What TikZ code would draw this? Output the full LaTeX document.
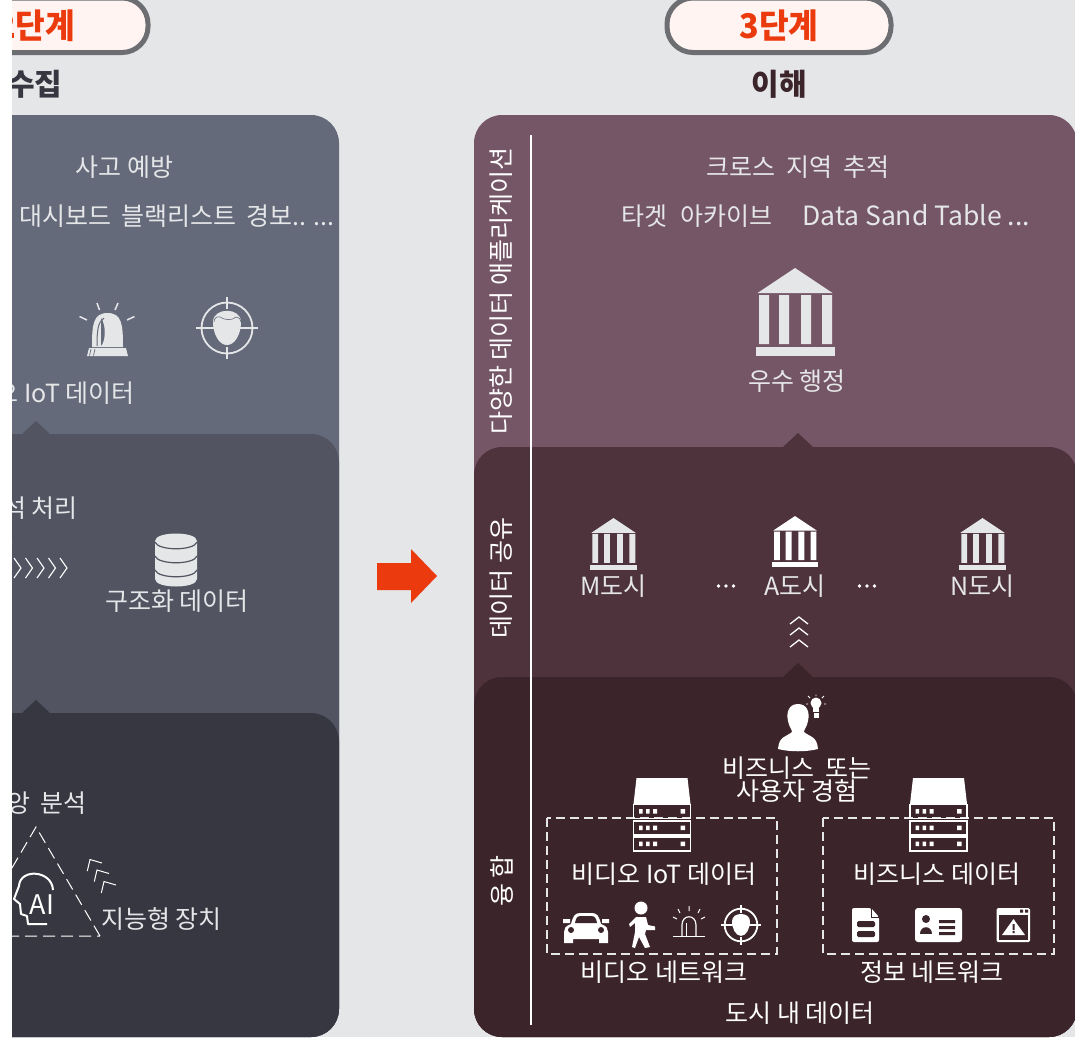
\documentclass[tikz,border=0pt]{standalone}
\usepackage{fontspec}
\setmainfont{Noto Sans CJK KR}
\newfontfamily\headfont{Noto Sans CJK KR}
\definecolor{bgc}{HTML}{E5E6E8}
\definecolor{lA}{HTML}{646A7A}
\definecolor{lB}{HTML}{525462}
\definecolor{lC}{HTML}{373741}
\definecolor{rA}{HTML}{755666}
\definecolor{rB}{HTML}{4E323C}
\definecolor{rC}{HTML}{3B242A}
\definecolor{redc}{HTML}{EB3B0E}
\definecolor{pillc}{HTML}{FFF4F1}
\definecolor{pilledge}{HTML}{6D6E71}
\newcommand{\fsz}[1]{\fontsize{#1}{#1}\selectfont}
\tikzset{
  lbl/.style={text=bgc,inner sep=0pt,font=\fsz{25},yshift=-1.5pt},
  wlbl/.style={text=white,inner sep=0pt,font=\fsz{25},yshift=-1.5pt},
  vlbl/.style={text=white,inner sep=0pt,font=\fsz{25},rotate=90},
  steplabel/.style={text=redc,inner sep=0pt,font=\headfont\fsz{34}\bfseries,xscale=.95},
  headlabel/.style={inner sep=0pt,font=\headfont\fsz{30}\bfseries},
  pill/.style={draw=pilledge,fill=pillc,line width=5pt,rounded corners=26pt},
  dbox/.style={draw=bgc,line width=1.3pt,dash pattern=on 9pt off 5pt},
  chev/.style={draw=white,line width=1.3pt},
  temple/.pic={
    \path[pic actions] (0,0)--(37.5,25)--(-37.5,25)--cycle;
    \path[pic actions] (-36,27) rectangle (-26,76) (-16,27) rectangle (-6,76)
      (6,27) rectangle (16,76) (27,27) rectangle (37,76);
    \path[pic actions] (-39.5,79) rectangle (39.5,88);
  },
  upchev/.pic={\draw[chev] (-9,7)--(0,0)--(9,7);},
  rightchev/.pic={\draw[chev,line width=1.1pt] (-7,-10)--(0,0)--(-7,10);},
  targetface/.pic={
    \draw[pic actions,fill=none,line width=1.8pt] (0,0) circle (25.5);
    \draw[pic actions,fill=none,line width=1.8pt] (-31,0)--(-13,0) (13,0)--(31,0) (0,-31)--(0,-19) (0,19)--(0,31);
    \path[pic actions,draw=none] (-14,-6) .. controls (-14,-21) and (14,-21) .. (14,-6)
      .. controls (14,6) and (8,17) .. (0,17) .. controls (-8,17) and (-14,6) .. (-14,-6)--cycle;
  },
  serverrow/.pic={
    \draw[draw=white,line width=1.3pt] (-28.5,0) rectangle (28.5,14);
    \fill[white] (-23,4.5) rectangle (-19.5,9) (-16,4.5) rectangle (-12.5,9) (-9,4.5) rectangle (-5,9)
      (18.5,4.5) rectangle (23,9);
  },
  server/.pic={
    \fill[white] (-25.5,0)--(25.5,0)--(28.5,26)--(-28.5,26)--cycle;
    \pic at (0,26.5) {serverrow};
    \pic at (0,43) {serverrow};
    \pic at (0,59) {serverrow};
  },
}
\begin{document}
\begin{tikzpicture}[x=1pt,y=-1pt]
\useasboundingbox (0,0) rectangle (1075,1037);
\fill[white] (0,0) rectangle (1075,1037);
\begin{scope}
\clip (12,0) rectangle (1075,1037);
\fill[bgc] (0,0) rectangle (1075,1037);

% ---- left column panels
\fill[lA,rounded corners=28pt] (-100,115) rectangle (339,1037);
\fill[lB] (22,434)--(36,421)--(50,434)--cycle;
\fill[lB,rounded corners=28pt] (-100,434) rectangle (339,1037);
\fill[lC] (22,713)--(36,700)--(50,713)--cycle;
\fill[lC,rounded corners=28pt] (-100,713) rectangle (339,1037);

% ---- right column panels
\fill[rA,rounded corners=28pt] (474,115) rectangle (1077,1037);
\fill[rB] (783,447)--(798,433)--(813,447)--cycle;
\fill[rB,rounded corners=28pt] (474,447) rectangle (1077,1037);
\fill[rC] (783,677)--(798,663)--(813,677)--cycle;
\fill[rC,rounded corners=28pt] (474,677) rectangle (1077,1037);

% ---- step pills
\draw[pill] (-77,-2) rectangle (148,52.5);
\draw[pill] (667,-2) rectangle (891,52.5);
\node[steplabel,anchor=east] (stepTwo) at (75.5,26) {2단계};
\node[steplabel] (stepThree) at (779,26) {3단계};
\node[headlabel,text=lC,anchor=east] (headCollect) at (62.5,84) {수집};
\node[headlabel,text=rC] (headUnderstand) at (779,84) {이해};

% ---- left texts
\node[lbl] (accident) at (124.5,166) {사고 예방};
\node[lbl,anchor=west] (dash) at (19,215) {대시보드};
\node[lbl,anchor=east] (black) at (335,215) {블랙리스트\hspace{4pt} 경보.. ...};
\node[lbl,anchor=east] (iot) at (135,392) {오 IoT 데이터};
\node[lbl,anchor=east] (proc) at (78,507) {석 처리};
\node[lbl] (structured) at (177,600) {구조화 데이터};
\node[lbl,anchor=east] (central) at (87,802) {앙\hspace{5pt} 분석};
\node[lbl,anchor=west] (smart) at (101,918) {지능형 장치};

% siren (left)
\begin{scope}[bgc]
\fill (92,347) .. controls (92,325) and (93,313) .. (107.5,313) .. controls (122,313) and (123,325) .. (123,347)--cycle;
\fill (89,348)--(126,348)--(128,356)--(87,356)--cycle;
\draw[line width=1.5pt] (97,303)--(99.5,310) (118,303)--(115,310) (79.5,316.5)--(87,320) (134.5,316.5)--(127,320);
\end{scope}
\draw[lA,line width=1pt] (97,346) .. controls (97,330) and (98,322) .. (104,318);
\fill[lA] (101,318) .. controls (106,325) and (106,340) .. (101,346)--cycle;
\draw[lA,line width=.7pt] (91,349)--(89.5,355.5) (95,349)--(93.5,355.5);

\pic[draw=bgc,fill=bgc] at (227,328) {targetface};
\draw[lA,line width=.6pt] (214,322) .. controls (214,318) and (217,316) .. (220,317) .. controls (224,320) and (232,321) .. (236,317) .. controls (239,317) and (241,319) .. (241,322);

% database
\fill[bgc] (155,541) .. controls (155,531) and (197,531) .. (197,541) -- (197,579)
  .. controls (197,589) and (155,589) .. (155,579)--cycle;
\draw[lB,line width=1.2pt] (155,542) .. controls (158,551) and (194,551) .. (197,542)
  (155,556) .. controls (158,565) and (194,565) .. (197,556)
  (155,570) .. controls (158,579) and (194,579) .. (197,570);

% right chevrons (left column)
\foreach \cx in {67,55.5,44,32.5,21} {\pic at (\cx,568) {rightchev};}
\draw[pilledge,line width=1pt] (0,542.5)--(13,542.5);

% AI triangle
\draw[white,line width=1pt,dash pattern=on 12pt off 6pt] (100,936)--(36,827)--(-28,936)--cycle;
\draw[white,line width=2pt,line join=round] (53,890) .. controls (52,870) and (20,868) .. (19,886)
  -- (14,899)--(20,904)--(21,914)--(27,916)--(28,924)--(47,924);
\node[inner sep=0pt,text=white,font=\headfont\fsz{27}] (aiLabel) at (42,905) {AI};
\foreach \cx/\cy in {90/859.5, 97/870, 104/881.5} {
  \draw[white,line width=1pt] (\cx+12,\cy+3.5)--(\cx,\cy)--(\cx-2.7,\cy+11.5);
}

% ---- centre arrow
\fill[redc] (377,563)--(411,563)--(411,549)--(437,576)--(411,603)--(411,590)--(377,590)--cycle;

% ---- right side rule and vertical labels
\draw[white,line width=1.3pt] (531,135)--(531,1025);
\node[vlbl] (vApps) at (501,291) {다양한 데이터 애플리케이션};
\node[vlbl] (vShare) at (501,578) {데이터 공유};
\node[vlbl] (vFusion) at (502,881) {융 합};

% ---- right top
\node[lbl] (cross) at (798,166) {크로스\hspace{5pt} 지역\hspace{5pt} 추적};
\node[lbl] (target) at (697,215) {타겟\hspace{7pt} 아카이브};
\node[lbl,font=\fsz{26.5}] (sand) at (916,213.5) {Data Sand Table ...};
\pic[fill=bgc] at (795,268) {temple};
\node[lbl] (best) at (797,380) {우수 행정};

% ---- sharing row
\pic[fill=bgc,scale=.59] at (613.5,518) {temple};
\pic[fill=white,scale=.58] at (795,516) {temple};
\pic[fill=bgc,scale=.59] at (982.5,518) {temple};
\node[lbl] (cityM) at (613.5,585) {M도시};
\node[lbl] (cityA) at (795,585) {A도시};
\node[lbl] (cityN) at (982.5,585) {N도시};
\foreach \dx in {-7.5,0,7.5} {
  \fill[white] (726+\dx,586) circle (1.8);
  \fill[white] (867+\dx,586) circle (1.8);
}
\pic at (799,617) {upchev};
\pic at (799,628) {upchev};
\pic at (799,640) {upchev};

% ---- person with bulb
\fill[white] (798,704) .. controls (789,704) and (786,712) .. (788,721)
  .. controls (789,727) and (792,729) .. (792,732)
  .. controls (786,737) and (779,736) .. (778,749)
  .. controls (790,752) and (806,752) .. (818,749)
  .. controls (817,736) and (810,737) .. (804,732)
  .. controls (804,729) and (807,727) .. (808,721)
  .. controls (810,712) and (807,704) .. (798,704)--cycle;
\fill[white] (816,703) circle (5.5);
\fill[white] (813,706) rectangle (819,712);
\fill[white] (813.5,713) rectangle (818.5,717.5);
\draw[white,line width=.8pt] (816,694.5)--(816,696) (808,696)--(810,698) (824,696)--(822,698)
  (806,704)--(808,704) (826,704)--(824,704);

\node[wlbl] (bizor) at (797,767) {비즈니스\hspace{6pt} 또는};
\node[wlbl] (userexp) at (797,790) {사용자 경험};

% ---- dashed network frames
\draw[dbox] (547,818) rectangle (777,954);
\draw[dbox] (823,818) rectangle (1054,954);
\pic at (662,778) {server};
\pic at (938.5,778) {server};
\node[wlbl] (vidiot) at (664,873) {비디오 IoT 데이터};
\node[wlbl] (bizdata) at (937,873) {비즈니스 데이터};
\node[wlbl] (vidnet) at (664,971) {비디오 네트워크};
\node[wlbl] (infonet) at (932,971) {정보 네트워크};
\node[wlbl] (citydata) at (800,1012) {도시 내 데이터};

% car
\fill[white] (571,924) .. controls (573,916) and (575,913) .. (580,913) -- (592,913)
  .. controls (597,913) and (599,916) .. (601,924)
  .. controls (607,926) and (608,929) .. (608,932) -- (608,943)--(599,943)--(599,939)--(573,939)--(573,943)--(564,943)--(564,932)
  .. controls (564,929) and (565,926) .. (571,924)--cycle;
\fill[white] (563,919) rectangle (570,923) (602,919) rectangle (609,923);
\fill[rC] (575,923) .. controls (576,918) and (577,916) .. (581,916) -- (591,916)
  .. controls (595,916) and (596,918) .. (597,923)--cycle;
\fill[rC] (571,930) circle (3) (601,930) circle (3);

% walker
\fill[white] (641,908) circle (6.5);
\fill[white] (636,917)--(646,917)--(648,925)--(655,926.5)--(655,930)--(646,930)--(645,934)--(650,947)--(645,948)--(639,937)
  --(635,948)--(632,947)--(635,932)--(635,923)--(630,927)--(629,924)--cycle;

% outlined siren
\draw[white,line width=1.2pt] (673,936.5)--(705,936.5);
\draw[white,line width=1.2pt] (682,936) -- (682,925) .. controls (682,914) and (696,914) .. (696,925) -- (696,936);
\draw[white,line width=1pt] (686,936)--(686,923);
\draw[white,line width=1pt] (689,906)--(689,911) (678,909)--(680,913) (700,909)--(698,913) (673,917)--(677,919) (705,917)--(701,919);

\pic[draw=white,fill=white,scale=.64] at (741,925) {targetface};

% document
\fill[white,rounded corners=2pt] (852,908)--(871,908)--(879,917)--(879,942)--(852,942)--cycle;
\draw[rC,line width=1pt] (871,907)--(871,917)--(880,917);
\fill[rC,rounded corners=1.5pt] (857,921) rectangle (875,927) (857,931) rectangle (875,937);

% ID card
\fill[white,rounded corners=3pt] (915,908) rectangle (962,942);
\fill[rC] (926,919) circle (4);
\fill[rC] (920,934) .. controls (920,925) and (932,925) .. (932,934)--cycle;
\fill[rC] (939,920) rectangle (955,923) (939,926) rectangle (955,929) (939,932) rectangle (955,935);

% warning window
\fill[white,rounded corners=1.5pt] (996.5,908) rectangle (1030,942);
\fill[rC] (999,915) rectangle (1028,940);
\fill[rC] (1020,909.5) rectangle (1023,912.5) (1025,909.5) rectangle (1028,912.5);
\fill[white] (1013.5,919)--(1025,935)--(1002,935)--cycle;
\fill[rC] (1012.5,924) rectangle (1014.5,930) (1012.5,931) rectangle (1014.5,933);
\end{scope}
\end{tikzpicture}
\end{document}
